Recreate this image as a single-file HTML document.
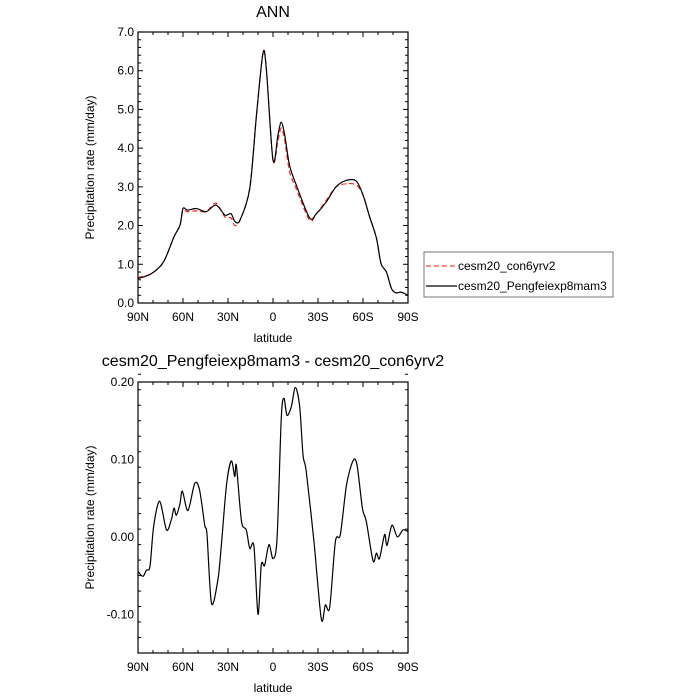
<!DOCTYPE html>
<html><head><meta charset="utf-8"><style>
html,body{margin:0;padding:0;background:#fff;}
svg{display:block;font-family:"Liberation Sans",Arial,sans-serif;}
</style></head><body>
<svg id="chart" width="700" height="700" viewBox="0 0 700 700" xmlns="http://www.w3.org/2000/svg">
<rect width="700" height="700" fill="#fff"/>
</svg>
<script>
// Top panel data
const topLat = [90,81,73,66,62,60,57,51,44.5,38,32,28,25.5,22,15.5,11,6.7,4.5,0,-3.3,-5.5,-7.8,-11,-15.5,-24.4,-29,-35.5,-42,-49,-55.5,-60,-64.4,-69,-72,-75.6,-79,-82,-85.5,-90];
const blackVals = [0.63,0.76,1.06,1.71,2.01,2.44,2.40,2.44,2.36,2.53,2.27,2.31,2.11,2.14,2.96,4.86,6.45,6.07,3.69,4.34,4.67,4.34,3.56,3.05,2.20,2.31,2.61,3.00,3.17,3.15,2.79,2.23,1.67,1.02,0.80,0.37,0.26,0.28,0.20];
const redVals = [0.66,0.76,1.06,1.71,2.01,2.38,2.36,2.38,2.36,2.58,2.22,2.20,2.00,2.14,2.96,4.86,6.45,6.07,3.69,4.20,4.52,4.20,3.40,2.95,2.14,2.31,2.65,3.00,3.08,3.05,2.79,2.23,1.67,1.02,0.80,0.37,0.26,0.28,0.20];
// Bottom panel data
const diffLat = [90,86.7,84.4,82,79.6,75.6,71,67.8,66,64.4,62,60.4,56.7,52.2,49,45.5,44,41,36.7,34.4,31,27.8,25.5,24.4,21,17.8,15.5,12.7,10,7.8,5.6,2.7,0,-2.7,-5.5,-7.3,-9.3,-12.2,-14.9,-17.8,-20,-22.2,-27.3,-32.2,-34.9,-37.8,-41.6,-44.9,-49,-53.3,-56,-59.6,-62.2,-66.7,-68.9,-71,-74.4,-76,-79.3,-82.9,-86.7,-90];
const diffVals = [-0.045,-0.051,-0.043,-0.038,0.013,0.046,0.009,0.022,0.037,0.028,0.043,0.059,0.034,0.069,0.061,0.015,0.003,-0.086,-0.055,-0.010,0.067,0.098,0.078,0.092,0.020,0.009,-0.015,-0.012,-0.100,-0.036,-0.037,-0.010,-0.028,-0.002,0.153,0.179,0.157,0.168,0.193,0.168,0.106,0.084,-0.006,-0.106,-0.088,-0.091,-0.006,0.003,0.067,0.098,0.093,0.037,0.020,-0.031,-0.021,-0.028,0.003,-0.011,0.015,0.000,0.009,0.007];
const xTickVals = [90,60,30,0,-30,-60,-90];
const xTickLabels = ["90N","60N","30N","0","30S","60S","90S"];
const topYTicks = [0,1,2,3,4,5,6,7];
const topYLabels = ["0.0","1.0","2.0","3.0","4.0","5.0","6.0","7.0"];
const botYTicks = [-0.1,0,0.1,0.2];
const botYLabels = ["-0.10","0.00","0.10","0.20"];

const NS="http://www.w3.org/2000/svg";
const svg=document.getElementById('chart');
function mk(tag,attrs,parent){const e=document.createElementNS(NS,tag);for(const k in attrs)e.setAttribute(k,attrs[k]);(parent||svg).appendChild(e);return e;}

function path(xs,ys){ // Catmull-Rom smoothing
  let d=`M${xs[0]},${ys[0]}`;
  for(let i=0;i<xs.length-1;i++){
    const x0=xs[Math.max(i-1,0)],y0=ys[Math.max(i-1,0)],x1=xs[i],y1=ys[i],x2=xs[i+1],y2=ys[i+1],x3=xs[Math.min(i+2,xs.length-1)],y3=ys[Math.min(i+2,xs.length-1)];
    const t=0.15;
    d+=` C${x1+(x2-x0)*t},${y1+(y2-y0)*t} ${x2-(x3-x1)*t},${y2-(y3-y1)*t} ${x2},${y2}`;
  }
  return d;
}

function panel(name,L,R,T,B,ymin,ymax,yMajor,yMinor,yT,yL){
  const g=mk('g',{});
  
  
  const xs=lat=>L+(90-lat)/180*(R-L);
  const ys=v=>B-(v-ymin)/(ymax-ymin)*(B-T);
  // x ticks
  for(let lat=90;lat>=-90;lat-=10){
    const maj=lat%30===0, len=maj?5:3, x=xs(lat);
    mk('line',{x1:x,y1:B,x2:x,y2:B-len,stroke:'#000','stroke-width':1},g);
    mk('line',{x1:x,y1:T,x2:x,y2:T+len,stroke:'#000','stroke-width':1},g);
  }
  const nmin=Math.round((ymax-ymin)/yMinor);
  for(let i=0;i<=nmin;i++){
    const v=ymin+i*yMinor; const y=ys(v);
    const maj=Math.abs(v/yMajor-Math.round(v/yMajor))<1e-6; const len=maj?5:3;
    mk('line',{x1:L,y1:y,x2:L+len,y2:y,stroke:'#000','stroke-width':1},g);
    mk('line',{x1:R,y1:y,x2:R-len,y2:y,stroke:'#000','stroke-width':1},g);
  }
  xTickVals.forEach((v,i)=>{const t=mk('text',{x:xs(v),y:B+18,'text-anchor':'middle','font-size':12},g);t.textContent=xTickLabels[i];
    
    });
  yT.forEach((v,i)=>{const t=mk('text',{x:L-4,y:ys(v)+4,'text-anchor':'end','font-size':12},g);t.textContent=yL[i];
    
    });
  const xt=mk('text',{x:(L+R)/2,y:B+39,'text-anchor':'middle','font-size':12},g);xt.textContent='latitude';
  
  
  const yc=(T+B)/2;
  const yt=mk('text',{x:0,y:0,'text-anchor':'middle','font-size':12,transform:`translate(${L-44},${yc}) rotate(-90)`},g);yt.textContent='Precipitation rate (mm/day)';
  
  
  return {g,xs,ys};
}

// Top
const p1=panel('top-panel',138,408,32,303,0,7,1,0.2,topYTicks,topYLabels);
const t1=mk('text',{x:273,y:17,'text-anchor':'middle','font-size':16});t1.textContent='ANN';


const rl=mk('path',{d:path(topLat.map(p1.xs),redVals.map(p1.ys)),fill:'none',stroke:'#ff2020','stroke-width':1.2,'stroke-dasharray':'5,3'},p1.g);


const bl=mk('path',{d:path(topLat.map(p1.xs),blackVals.map(p1.ys)),fill:'none',stroke:'#000','stroke-width':1.2},p1.g);


mk('rect',{x:138,y:32,width:270,height:271,fill:'none',stroke:'#000','stroke-width':1.2},p1.g);

// Bottom
const p2=panel('bottom-panel',138,408,382,653,-0.15,0.2,0.1,0.02,botYTicks,botYLabels);
const t2=mk('text',{x:273,y:366,'text-anchor':'middle','font-size':16});t2.textContent='cesm20_Pengfeiexp8mam3 - cesm20_con6yrv2';


const dl=mk('path',{d:path(diffLat.map(p2.xs),diffVals.map(p2.ys)),fill:'none',stroke:'#000','stroke-width':1.2},p2.g);


mk('rect',{x:138,y:382,width:270,height:271,fill:'none',stroke:'#000','stroke-width':1.2},p2.g);

// Legend
const lg=mk('g',{});


mk('rect',{x:424,y:252,width:189,height:45,fill:'#fff',stroke:'#777','stroke-width':1},lg);
mk('line',{x1:426,y1:266,x2:457,y2:266,stroke:'#ff4040','stroke-width':1.2,'stroke-dasharray':'5,3'},lg);
const l1=mk('text',{x:458,y:270,'font-size':12},lg);l1.textContent='cesm20_con6yrv2';


mk('line',{x1:426,y1:286,x2:457,y2:286,stroke:'#000','stroke-width':1.2},lg);
const l2=mk('text',{x:458,y:290,'font-size':12},lg);l2.textContent='cesm20_Pengfeiexp8mam3';


</script>
</body></html>
